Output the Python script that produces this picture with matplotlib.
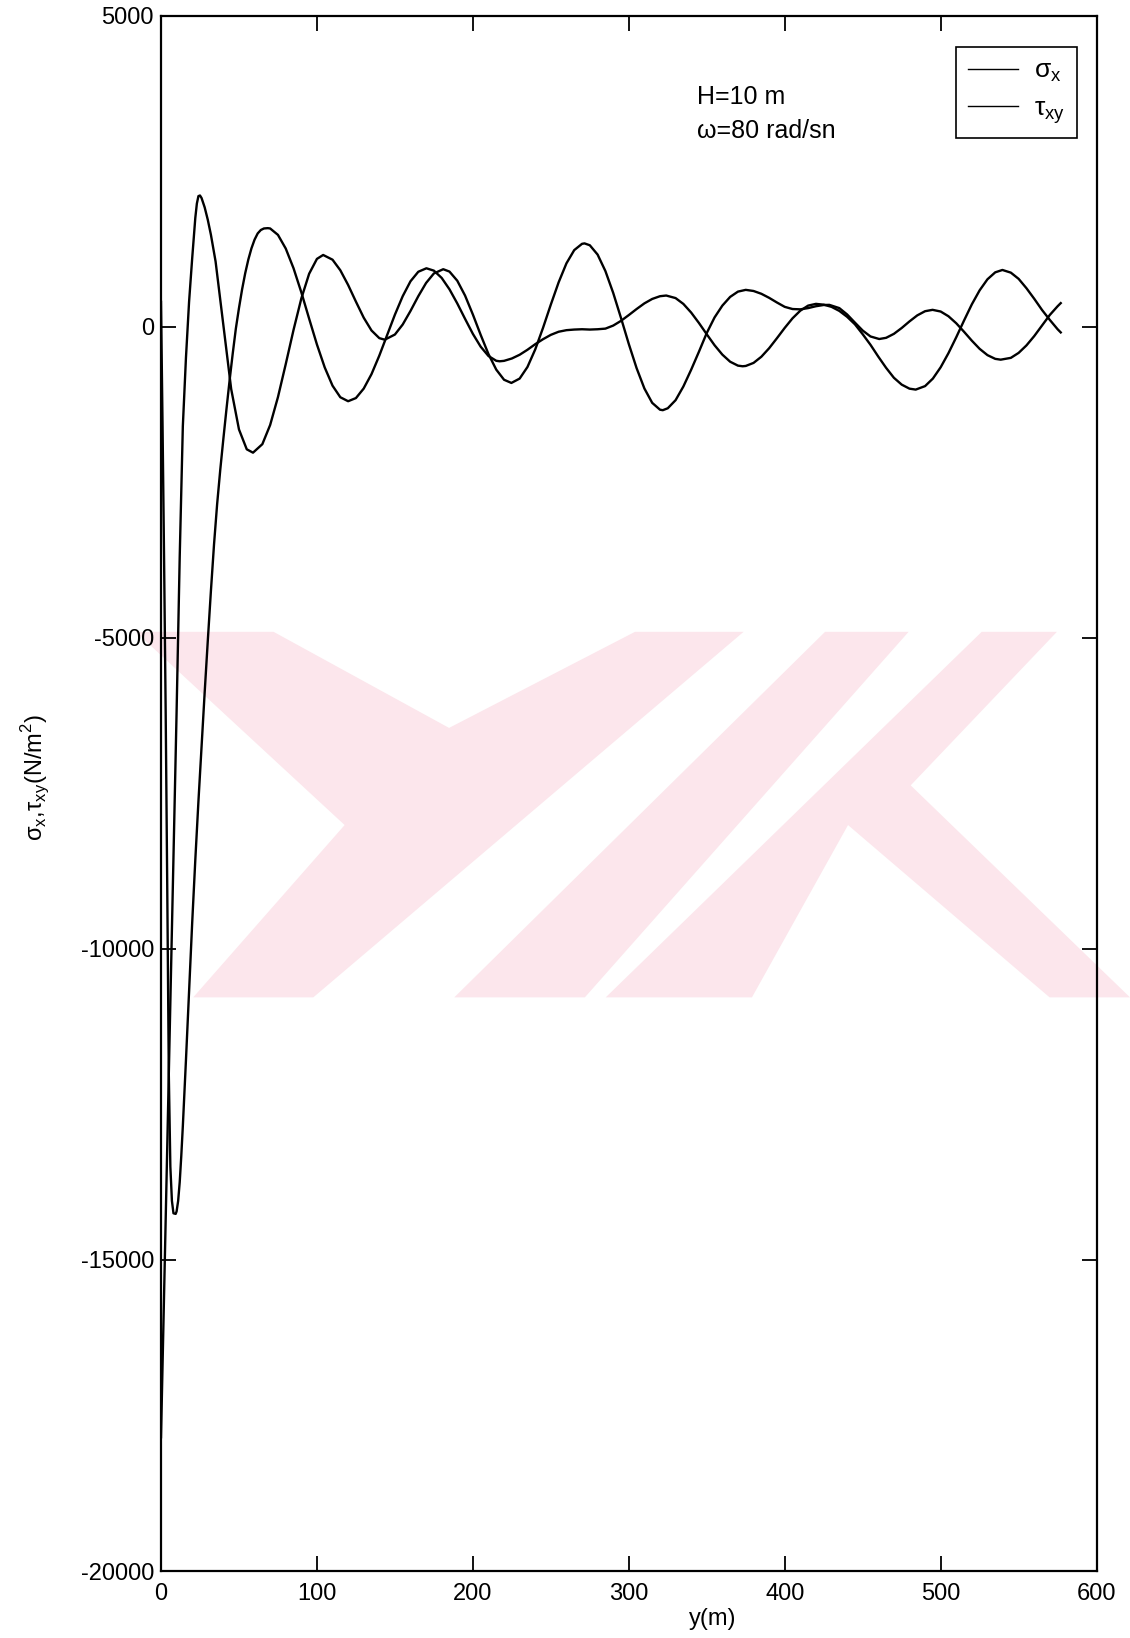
import matplotlib
matplotlib.use('Agg')
import matplotlib.pyplot as plt
from matplotlib.lines import Line2D
from matplotlib.patches import Polygon

# ---------------- data ----------------
sigma_y = [0, 2, 4, 6, 8, 10, 12, 14, 16, 18, 20, 22, 23, 24, 25, 26, 28, 30, 32, 35, 40, 45, 50, 55, 59,
           65, 70, 75, 80, 85, 90, 95, 100, 104, 110, 115, 120, 125, 130, 135, 140, 143.5, 150, 155, 160,
           165, 170, 175, 181, 185, 190, 195, 200, 205, 210, 215, 220, 224.7, 230, 235, 240, 245, 250, 255,
           260, 265, 270, 271.6, 275, 280, 285, 290, 295, 300, 305, 310, 315, 320, 321.8, 325, 330, 335,
           340, 345, 350, 355, 360, 365, 370, 375, 380, 385, 390, 395, 400, 405, 410, 415, 420, 425, 428.6,
           435, 440, 445, 450, 455, 460.6, 465, 470, 475, 480, 485, 490, 494.8, 500, 505, 510, 515, 520,
           525, 530, 535, 538.5, 545, 550, 555, 560, 565, 570, 575, 577]
sigma_x = [-17850, -15520, -13190, -10860, -8520, -6190, -3700, -1600, -500, 400, 1100, 1750, 1980, 2100,
           2110, 2070, 1920, 1720, 1480, 1050, 20, -1000, -1650, -1970, -2024,
           -1887, -1579, -1131, -600, -50, 455, 852, 1091, 1154, 1078, 908, 672, 404, 146, -60, -183, -208,
           -125, 36, 254, 491, 704, 857, 925, 887, 740, 501, 197, -130, -439, -689, -852, -903, -833, -647,
           -364, -17, 357, 714, 1019, 1232, 1333, 1340, 1310, 1160, 895, 544, 141, -277, -665, -992, -1223,
           -1333, -1341, -1310, -1180, -960, -690, -400, -100, 150, 340, 480, 565, 593, 575, 530, 465, 390,
           320, 285, 280, 300, 330, 350, 352, 300, 198, 67, -61, -156, -197, -178, -114, -20, 86, 183, 250,
           272, 245, 169, 56, -81, -224, -355, -456, -516, -529, -500, -420, -300, -150, 20, 190, 330, 380]

tau_y = [0, 1, 2, 3, 4, 5, 6, 7, 8, 9.4, 10, 11, 12, 13, 14, 15, 16, 18, 20, 22, 24, 26, 28, 30, 32, 34,
         36, 38, 40, 42, 44, 46, 48, 50, 52, 54, 56, 58, 60, 62, 64, 66, 68.5, 70, 75, 80, 85, 90, 95, 100,
         105, 110, 115, 120, 125, 130, 135, 140, 145, 150, 155, 160, 165, 170.2, 175, 180, 185, 190, 195,
         200, 205, 210, 215, 217.2, 220, 225, 230, 235, 240, 245, 250, 255, 260, 265, 270, 275, 280, 285,
         290, 295, 300, 305, 310, 315, 320, 324, 330, 335, 340, 345, 350, 355, 360, 365, 370, 373, 375,
         380, 385, 390, 395, 400, 405, 410, 415, 420, 425, 430, 435, 440, 445, 450, 455, 460, 465, 470,
         475, 480, 484, 490, 495, 500, 505, 510, 515, 520, 525, 530, 535, 539.6, 545, 550, 555, 560, 565,
         570, 575, 577]
tau_xy = [400, -1600, -3800, -6200, -9000, -12000, -13500, -14050, -14250, -14260, -14220, -14050, -13750,
          -13330, -12850, -12330, -11790, -10700, -9580, -8570, -7630, -6740, -5880, -5050, -4250, -3500,
          -2850, -2300, -1800, -1320, -860, -430, -30, 300, 600, 860, 1080, 1260, 1400, 1500, 1555, 1580,
          1585, 1580, 1477, 1257, 940, 553, 130, -285, -654, -947, -1133, -1197, -1146, -994, -761, -464,
          -135, 194, 491, 731, 884, 940, 902, 785, 602, 375, 127, -114, -320, -470, -547, -555, -548, -510,
          -450, -370, -280, -200, -130, -80, -55, -45, -40, -45, -40, -30, 19, 95, 188, 285, 376, 447, 491,
          502, 461, 367, 228, 60, -121, -297, -448, -562, -625, -635, -630, -581, -482, -345, -184, -18,
          136, 259, 340, 368, 355, 320, 255, 160, 40, -120, -290, -480, -660, -820, -930, -995, -1010,
          -954, -833, -651, -424, -168, 101, 361, 586, 763, 875, 913, 870, 770, 620, 450, 270, 110, -40, -91]

x_ticks = [0, 100, 200, 300, 400, 500, 600]
y_ticks = [-20000, -15000, -10000, -5000, 0, 5000]
series_labels = ['σ$_\\mathregular{x}$', 'τ$_\\mathregular{xy}$']
note_lines = ['H=10 m', 'ω=80 rad/sn']

# ---------------- figure ----------------
plt.rcParams['font.family'] = ['Liberation Sans', 'DejaVu Sans']
plt.rcParams['mathtext.fontset'] = 'custom'
plt.rcParams['mathtext.rm'] = 'Liberation Sans'
plt.rcParams['axes.unicode_minus'] = False

W, H = 1130, 1638
fig = plt.figure(figsize=(W / 100, H / 100), dpi=100)

# faint pink background watermark (decoration of the scanned page), in figure pixel space
k = W / 1082.0
wm_shapes = [
    [(130, 605), (262, 605), (430, 697), (608, 605), (712, 605), (300, 955), (185, 955), (330, 790)],
    [(790, 605), (870, 605), (560, 955), (435, 955)],
    [(940, 605), (1012, 605), (872, 752), (1082, 955), (1005, 955), (812, 790), (720, 955), (580, 955)],
]
for shp in wm_shapes:
    pts = [(px * k / W, 1 - py * k / H) for px, py in shp]
    fig.patches.append(Polygon(pts, closed=True, transform=fig.transFigure,
                               facecolor='#fce6ec', edgecolor='none', zorder=-10))

ax = fig.add_axes([161 / W, 1 - 1571 / H, (1096.6 - 161) / W, (1571 - 15.7) / H])
ax.patch.set_alpha(0)

ax.plot(sigma_y, sigma_x, color='black', lw=1.7)
ax.plot(tau_y, tau_xy, color='black', lw=1.7)

ax.set_xlim(0, 600)
ax.set_ylim(-20000, 5000)
ax.set_xticks(x_ticks)
ax.set_yticks(y_ticks)
ax.tick_params(direction='in', length=11, width=1.3, top=True, right=True, labelsize=17)
ax.tick_params(axis='y', pad=5)
ax.tick_params(axis='x', pad=9)
for s in ax.spines.values():
    s.set_linewidth(1.6)

ax.set_xlabel('y(m)', fontsize=17)
ax.xaxis.set_label_coords(0.59, -0.024)
ax.set_ylabel('σ$_\\mathregular{x}$,τ$_\\mathregular{xy}$(N/m$^\\mathregular{2}$)', fontsize=17)
ax.yaxis.set_label_coords(-0.117, 0.51)

fig.text(697 / W, 1 - 97 / H, note_lines[0], fontsize=18, va='center', ha='left')
fig.text(697 / W, 1 - 131 / H, note_lines[1], fontsize=18, va='center', ha='left')

handles = [Line2D([], [], color='black', lw=1.0), Line2D([], [], color='black', lw=1.0)]
leg = ax.legend(handles, series_labels, loc='upper left',
                bbox_to_anchor=((956 - 161) / 935.6, (1571 - 47) / 1555.3),
                frameon=True, fancybox=False, edgecolor='black', framealpha=1, fontsize=19,
                handlelength=1.9, borderpad=0.45, labelspacing=0.45, handletextpad=0.6, borderaxespad=0)
leg.get_frame().set_linewidth(1.2)

fig.savefig('out.png', dpi=100)
